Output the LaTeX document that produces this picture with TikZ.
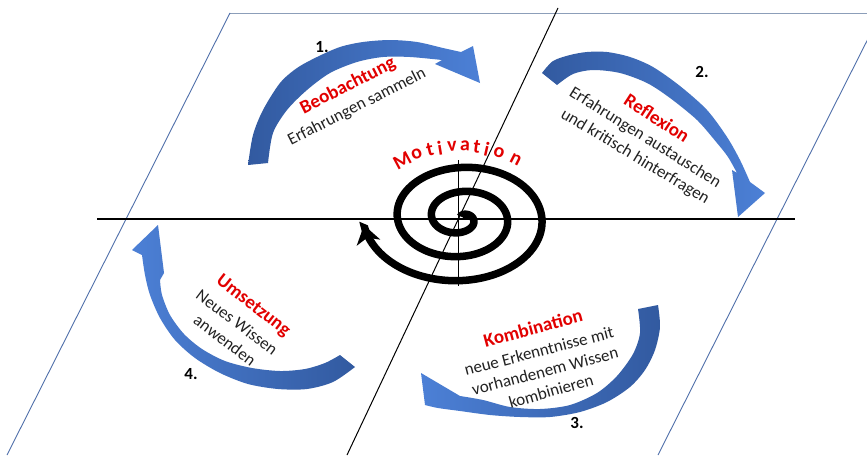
\documentclass[tikz,border=0pt]{standalone}
\usepackage{fontspec}
\setmainfont{Carlito}
\usetikzlibrary{arrows.meta}
\definecolor{arrdark}{RGB}{50,90,160}
\definecolor{arrlight}{RGB}{76,128,214}
\definecolor{frameblue}{RGB}{80,112,170}
\definecolor{frametop}{RGB}{140,158,185}
\definecolor{txtred}{RGB}{226,0,0}
\definecolor{txtdark}{RGB}{34,34,34}
\begin{document}
\begin{tikzpicture}[x=1pt,y=-1pt,
  lbl/.style={inner sep=0pt, text=txtdark, font=\fontsize{17}{19}\selectfont},
  ttl/.style={inner sep=0pt, text=txtred, font=\bfseries\fontsize{19}{21}\selectfont},
  num/.style={inner sep=0pt, text=black, font=\bfseries\fontsize{17}{19}\selectfont},
  mot/.style={inner sep=0pt, text=txtred, font=\bfseries\fontsize{20}{22}\selectfont},
  guide/.style={black, line width=1pt},
  frame/.style={frameblue, line width=0.9pt},
  darkleft/.style={left color=arrdark, right color=arrlight},
  darkright/.style={left color=arrlight, right color=arrdark}]
\useasboundingbox (0,0) rectangle (867,455);
\fill[white] (0,0) rectangle (867,455);
\clip (0,0) rectangle (867,455);

% frame (parallelogram)
\coordinate (pTL) at (230,13);
\coordinate (pTR) at (881,13);
\coordinate (pBL) at (7,455);
\coordinate (pBR) at (658,455);
\draw[frametop, line width=0.9pt] (pTL) -- (pTR);
\draw[frame] (pTL) -- (pBL);
\draw[frame] (pTR) -- (pBR);

% guide lines
\coordinate (hL) at (97,219);
\coordinate (hR) at (795,219);
\coordinate (dT) at (558,8);
\coordinate (dB) at (347,455);
\coordinate (vT) at (458,160);
\coordinate (vB) at (458,286);
\draw[guide, line width=1.3pt] (hL) -- (hR);
\draw[guide] (dT) -- (dB);
\draw[guide, line width=0.8pt] (vT) -- (vB);

% arrow 1
\shade[darkleft] plot[smooth] coordinates {(248,165) (253,135) (263,110) (280,83) (297,68) (317,57) (340,47) (363,42) (390,40) (417,42) (443,48) (461,52)}
  -- (473,46) -- (480,83) -- (435,64) -- (442,60)
  -- plot[smooth] coordinates {(442,60) (410,57) (383,57) (357,62) (330,73) (307,90) (287,110) (273,133) (268,163)} -- cycle;

% arrow 2
\shade[darkleft] plot[smooth] coordinates {(542,73) (553,61) (570,55) (587,52) (607,52) (630,57) (653,67) (680,86) (707,110) (727,137) (740,160) (750,182)}
  -- (765,193) -- (738,217) -- (732,170) -- (737,173)
  -- plot[smooth] coordinates {(737,173) (728,157) (717,143) (697,120) (670,98) (647,83) (620,73) (593,70) (573,74) (557,85)} -- cycle;

% arrow 3
\shade[darkright] plot[smooth] coordinates {(658,305) (660,327) (655,350) (645,370) (630,387) (607,402) (580,412) (550,417) (520,417) (490,415) (460,411) (438,408) (425,405)}
  -- (421,373) -- (460,396)
  -- plot[smooth] coordinates {(460,396) (483,400) (510,407) (540,409) (570,405) (597,393) (617,376) (633,354) (640,333) (638,309)} -- cycle;

% arrow 4
\shade[darkright] plot[smooth] coordinates {(355,367) (333,382) (307,389) (278,389) (248,384) (220,373) (195,358) (175,340) (160,318) (150,295) (145,275) (142,255)}
  -- (132,250) -- (158,225) -- (164,273) -- (160,280)
  -- plot[smooth] coordinates {(160,280) (162,295) (170,315) (184,334) (202,349) (225,361) (252,368) (280,371) (305,369) (325,363) (340,355)} -- cycle;

% spiral
\draw[black, line width=7.5pt, -{Stealth[length=18pt, width=24pt, inset=5pt]}]
  plot[domain=4.55:21.89, samples=300, variable=\t, smooth]
  ({461+5.49*(\t-4.12)*cos(\t r)}, {218+3.84*(\t-4.12)*sin(\t r)});

% Motivation
\foreach \ch/\ang [count=\k] in {M/-28.2, o/-20.8, t/-14.3, i/-9.5, v/-3.8, a/2.4, t/8.0, i/12.7, o/18.7, n/27.2}
  \node[mot, rotate={-1*(\ang)}] (mot\k) at ({460+122*sin(\ang)},{268-122*cos(\ang)}) {\ch};

% texts
\node[num] (n1) at (322,47) {1.};
\node[ttl, rotate=27] (t1) at (348,86) {Beobachtung};
\node[lbl, rotate=27] (s1) at (357,107) {Erfahrungen sammeln};
\node[num] (n2) at (702,72) {2.};
\node[ttl, rotate=-33] (t2) at (657,118) {Reflexion};
\node[lbl, rotate=-32] (s2a) at (645,138) {Erfahrungen austauschen};
\node[lbl, rotate=-31] (s2b) at (635,157) {und kritisch hinterfragen};
\node[num] (n3) at (577,423) {3.};
\node[ttl, rotate=15] (t3) at (533,328) {Kombination};
\node[lbl, rotate=14.5] (s3a) at (539,351) {neue Erkenntnisse mit};
\node[lbl, rotate=14.6] (s3b) at (545,371) {vorhandenem Wissen};
\node[lbl, rotate=16] (s3c) at (551,391) {kombinieren};
\node[num] (n4) at (191,374) {4.};
\node[ttl, rotate=-38] (t4) at (253,306) {Umsetzung};
\node[lbl, rotate=-37] (s4a) at (237,322) {Neues Wissen};
\node[lbl, rotate=-37] (s4b) at (225,340) {anwenden};
\end{tikzpicture}
\end{document}
